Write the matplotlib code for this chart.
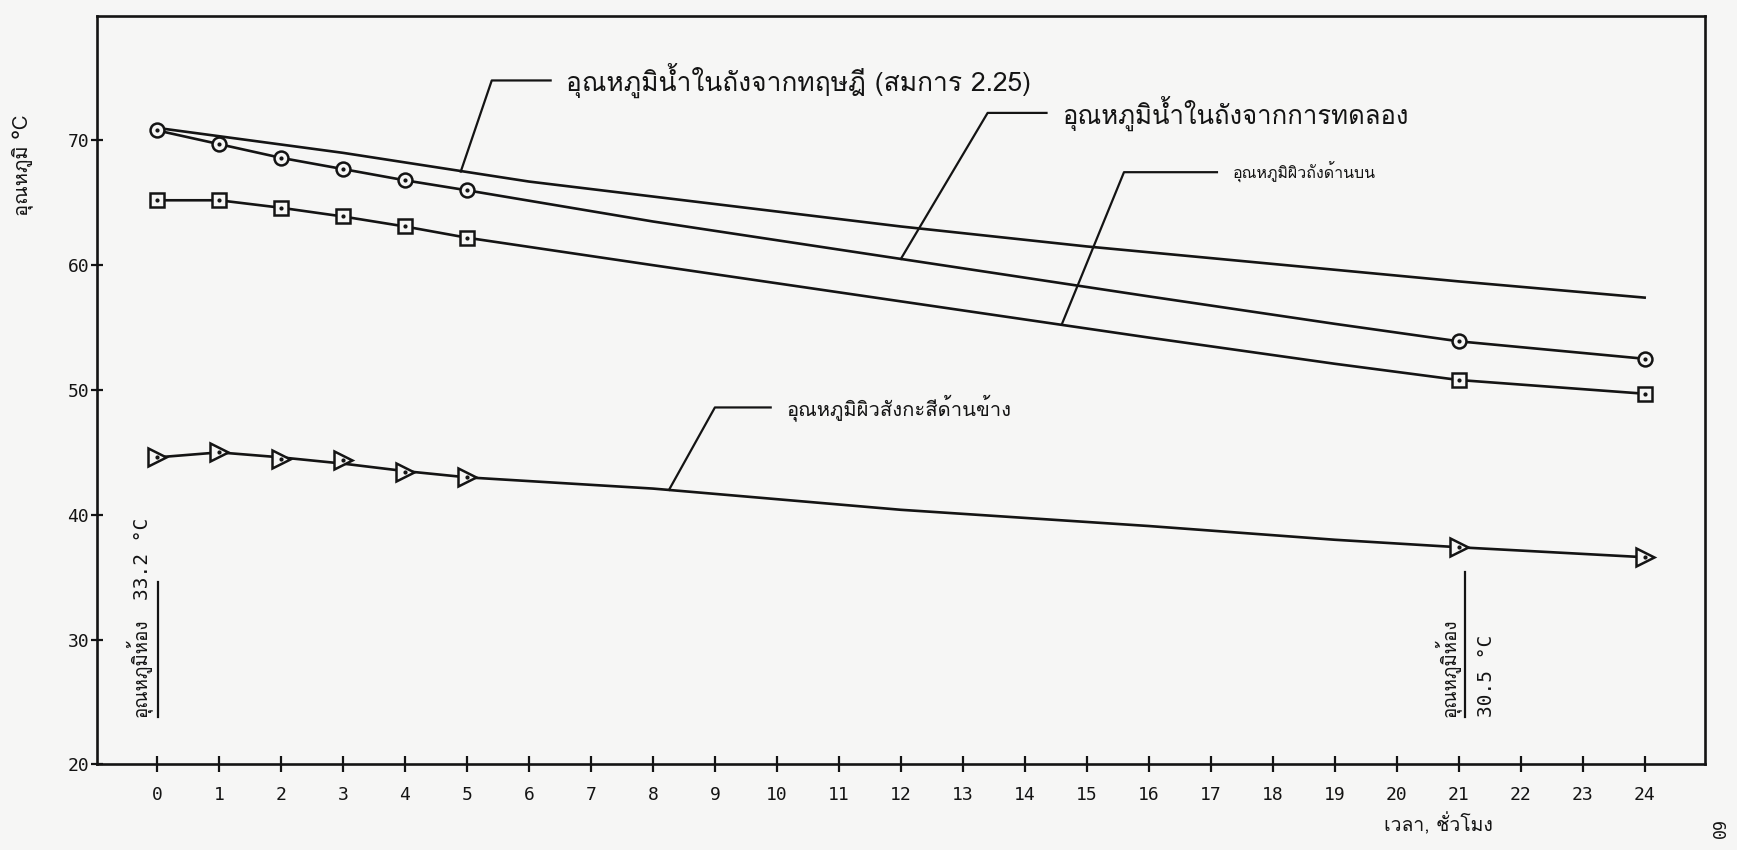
import matplotlib
matplotlib.use("Agg")
import matplotlib.pyplot as plt

# === DATA ===
hours_meas = [0, 1, 2, 3, 4, 5, 21, 24]
water_exp = [70.8, 69.7, 68.6, 67.7, 66.8, 66.0, 53.9, 52.5]
top_surf = [65.2, 65.2, 64.6, 63.9, 63.1, 62.2, 50.8, 49.7]
side_surf = [44.6, 45.0, 44.5, 44.4, 43.4, 43.0, 37.4, 36.6]

# hand drawn curves, read at a few hours between the measured points
hours_theory = [0, 3, 6, 9, 12, 15, 18, 21, 24]
water_theory = [71.0, 69.0, 66.7, 64.9, 63.1, 61.5, 60.1, 58.7, 57.4]
hours_curve = [0, 1, 2, 3, 4, 5, 8, 12, 16, 19, 21, 24]
water_exp_curve = [70.8, 69.7, 68.6, 67.7, 66.8, 66.0, 63.5, 60.5, 57.5, 55.3, 53.9, 52.5]
top_surf_curve = [65.2, 65.2, 64.6, 63.9, 63.1, 62.2, 60.0, 57.1, 54.2, 52.1, 50.8, 49.7]
side_surf_curve = [44.6, 45.0, 44.6, 44.1, 43.5, 43.0, 42.1, 40.4, 39.1, 38.0, 37.4, 36.6]

x_ticks = list(range(0, 25))
y_ticks = [20, 30, 40, 50, 60, 70]

THEORY_LABEL = "อุณหภูมิน้ำในถังจากทฤษฎี (สมการ 2.25)"
EXP_LABEL = "อุณหภูมิน้ำในถังจากการทดลอง"
TOP_LABEL = "อุณหภูมิผิวถังด้านบน"
SIDE_LABEL = "อุณหภูมิผิวสังกะสีด้านข้าง"
ROOM_LABEL = "อุณหภูมิห้อง"
ROOM_START = "33.2 °C"
ROOM_END = "30.5 °C"
X_LABEL = "เวลา, ชั่วโมง"
Y_LABEL = "อุณหภูมิ °C"

# === STYLE ===
THAI = ["Loma", "Noto Sans Thai Looped", "DejaVu Sans"]
MONO = "DejaVu Sans Mono"
INK = "#141414"
PAPER = "#f6f6f5"

# === PLOT ===
fig = plt.figure(figsize=(17.37, 8.5), dpi=100, facecolor=PAPER)
ax = fig.add_axes([0.0558, 0.1007, 0.926, 0.881], facecolor=PAPER)

ax.plot(hours_theory, water_theory, color=INK, lw=1.9)
ax.plot(hours_curve, water_exp_curve, color=INK, lw=1.9)
ax.plot(hours_curve, top_surf_curve, color=INK, lw=1.9)
ax.plot(hours_curve, side_surf_curve, color=INK, lw=1.9)

mk = dict(ls="none", mfc=PAPER, mec=INK, mew=1.8, zorder=4)
ax.plot(hours_meas, water_exp, marker="o", ms=10, **mk)
ax.plot(hours_meas, top_surf, marker="s", ms=10, **mk)
ax.plot(hours_meas, side_surf, marker=">", ms=13, **mk)
for series in (water_exp, top_surf, side_surf):
    ax.plot(hours_meas, series, ls="none", marker="o", ms=2, color=INK, zorder=5)


# leader lines: tip on the curve, knee, end of the short horizontal
def leader(tip, knee, end, text, size):
    ax.plot([tip[0], knee[0], end[0]], [tip[1], knee[1], end[1]], color=INK, lw=1.6)
    ax.text(end[0] + 0.25, end[1], text, va="center", ha="left",
            fontsize=size, family=THAI, color=INK)


leader((4.9, 67.5), (5.4, 74.8), (6.35, 74.8), THEORY_LABEL, 19)
leader((12.0, 60.5), (13.4, 72.2), (14.35, 72.2), EXP_LABEL, 18.5)
leader((14.6, 55.3), (15.6, 67.45), (17.1, 67.45), TOP_LABEL, 11.5)
leader((8.26, 42.0), (9.0, 48.6), (9.9, 48.6), SIDE_LABEL, 14.5)

# room temperature notes, written sideways and underlined
ax.plot([0.02, 0.02], [23.8, 34.6], color=INK, lw=1.6)
ax.text(-0.08, 23.8, ROOM_LABEL, rotation=90, ha="right", va="bottom",
        fontsize=13.5, family=THAI, color=INK)
ax.text(-0.08, 33.2, ROOM_START, rotation=90, ha="right", va="bottom",
        fontsize=14, family=MONO, color=INK)
ax.plot([21.1, 21.1], [23.8, 35.4], color=INK, lw=1.6)
ax.text(21.03, 23.8, ROOM_LABEL, rotation=90, ha="right", va="bottom",
        fontsize=13.5, family=THAI, color=INK)
ax.text(21.3, 23.8, ROOM_END, rotation=90, ha="left", va="bottom",
        fontsize=14, family=MONO, color=INK)

# === AXES ===
ax.set_xlim(-0.97, 24.98)
ax.set_ylim(20, 80)
ax.set_xticks(x_ticks)
ax.set_xticklabels([str(t) for t in x_ticks], family=MONO, fontsize=13)
ax.set_yticks(y_ticks)
ax.set_yticklabels([str(t) for t in y_ticks], family=MONO, fontsize=13)
ax.tick_params(axis="x", direction="inout", length=11, width=1.6, pad=10, colors=INK)
ax.tick_params(axis="y", direction="inout", length=9, width=1.6, pad=1, colors=INK)
for side in ax.spines.values():
    side.set_linewidth(1.9)
    side.set_color(INK)

fig.text(0.0127, 0.806, Y_LABEL, rotation=90, ha="center", va="center",
         fontsize=14.5, family=THAI, color=INK)
fig.text(0.828, 0.03, X_LABEL, ha="center", va="center",
         fontsize=14, family=THAI, color=INK)
fig.text(0.988, 0.022, "60", rotation=-90, ha="center", va="center",
         fontsize=12, family=MONO, color=INK)

# === SAVE OUTPUT ===
fig.savefig("out.png", dpi=100, facecolor=PAPER)
